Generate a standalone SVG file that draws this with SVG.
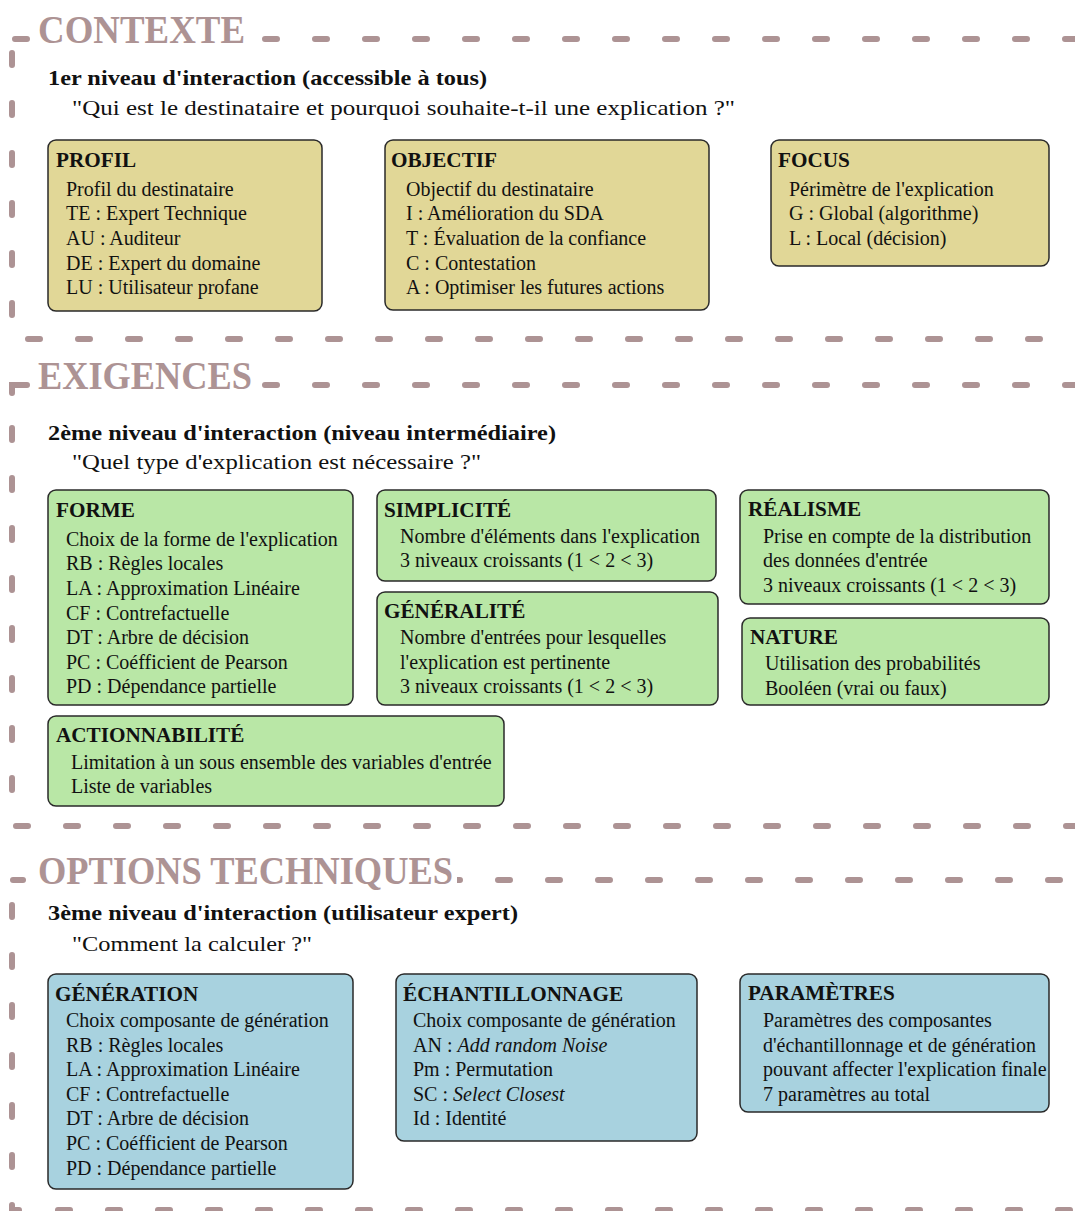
<svg xmlns="http://www.w3.org/2000/svg" width="1075" height="1211" viewBox="0 0 1075 1211">
<style>
text{font-family:"Liberation Serif","Times New Roman",serif;fill:#111}
.ttl{font-size:40px;font-weight:bold;fill:#ad9394}
.h{font-size:21.5px;font-weight:bold}
.q{font-size:21.5px}
.bt{font-size:21.2px;font-weight:bold}
.b{font-size:20px}
.d{stroke:#ad9394;stroke-width:6;stroke-linecap:round;stroke-dasharray:12 38;fill:none}
.box{stroke:#2a2a2a;stroke-width:1.5}
.y{fill:#e1d797}
.g{fill:#b9e7a6}
.bl{fill:#a8d2df}
</style>
<rect width="1075" height="1211" fill="#fff"/>
<g id="frames">
 <path class="d" d="M15,39 H1100"/>
 <path class="d" d="M12,53 V330"/>
 <path class="d" d="M28,339 H1100"/>
 <path class="d" d="M12,393 V385 H27"/>
 <path class="d" d="M15,385 H1100"/>
 <path class="d" d="M12,428 V800"/>
 <path class="d" d="M16,826 H1100"/>
 <path class="d" d="M13,880 H23"/>
 <path class="d" d="M48,880 H1100"/>
 <path class="d" d="M12,905 V1210 H20"/>
 <path class="d" d="M58,1210 H1100"/>
</g>
<g id="titles">
 <rect x="31" y="5" width="224" height="48" fill="#fff"/>
 <text class="ttl" x="38" y="43" textLength="207" lengthAdjust="spacingAndGlyphs">CONTEXTE</text>
 <rect x="31" y="350" width="226" height="48" fill="#fff"/>
 <text class="ttl" x="38" y="389" textLength="214" lengthAdjust="spacingAndGlyphs">EXIGENCES</text>
 <rect x="31" y="845" width="426" height="48" fill="#fff"/>
 <text class="ttl" x="38" y="884" textLength="415" lengthAdjust="spacingAndGlyphs">OPTIONS TECHNIQUES</text>
</g>
<g id="level1">
 <text class="h" x="48" y="85" textLength="439" lengthAdjust="spacingAndGlyphs">1er niveau d'interaction (accessible à tous)</text>
 <text class="q" x="72" y="115" textLength="663" lengthAdjust="spacingAndGlyphs">"Qui est le destinataire et pourquoi souhaite-t-il une explication ?"</text>
</g>
<g id="profil">
 <rect class="box y" x="48" y="140" width="274" height="171" rx="8"/>
 <text class="bt" x="56" y="167">PROFIL</text>
 <text class="b" x="66" y="196">Profil du destinataire</text>
 <text class="b" x="66" y="220">TE : Expert Technique</text>
 <text class="b" x="66" y="245">AU : Auditeur</text>
 <text class="b" x="66" y="270">DE : Expert du domaine</text>
 <text class="b" x="66" y="294">LU : Utilisateur profane</text>
</g>
<g id="objectif">
 <rect class="box y" x="385" y="140" width="324" height="170" rx="8"/>
 <text class="bt" x="391" y="167">OBJECTIF</text>
 <text class="b" x="406" y="196">Objectif du destinataire</text>
 <text class="b" x="406" y="220">I : Amélioration du SDA</text>
 <text class="b" x="406" y="245">T : Évaluation de la confiance</text>
 <text class="b" x="406" y="270">C : Contestation</text>
 <text class="b" x="406" y="294">A : Optimiser les futures actions</text>
</g>
<g id="focus">
 <rect class="box y" x="771" y="140" width="278" height="126" rx="8"/>
 <text class="bt" x="778" y="167">FOCUS</text>
 <text class="b" x="789" y="196">Périmètre de l'explication</text>
 <text class="b" x="789" y="220">G : Global (algorithme)</text>
 <text class="b" x="789" y="245">L : Local (décision)</text>
</g>
<g id="level2">
 <text class="h" x="48" y="440" textLength="508" lengthAdjust="spacingAndGlyphs">2ème niveau d'interaction (niveau intermédiaire)</text>
 <text class="q" x="72" y="469" textLength="409" lengthAdjust="spacingAndGlyphs">"Quel type d'explication est nécessaire ?"</text>
</g>
<g id="forme">
 <rect class="box g" x="48" y="490" width="305" height="215" rx="8"/>
 <text class="bt" x="56" y="517">FORME</text>
 <text class="b" x="66" y="546">Choix de la forme de l'explication</text>
 <text class="b" x="66" y="570">RB : Règles locales</text>
 <text class="b" x="66" y="595">LA : Approximation Linéaire</text>
 <text class="b" x="66" y="620">CF : Contrefactuelle</text>
 <text class="b" x="66" y="644">DT : Arbre de décision</text>
 <text class="b" x="66" y="669">PC : Coéfficient de Pearson</text>
 <text class="b" x="66" y="693">PD : Dépendance partielle</text>
</g>
<g id="simplicite">
 <rect class="box g" x="377" y="490" width="339" height="91" rx="8"/>
 <text class="bt" x="384" y="517">SIMPLICITÉ</text>
 <text class="b" x="400" y="543">Nombre d'éléments dans l'explication</text>
 <text class="b" x="400" y="567">3 niveaux croissants (1 &lt; 2 &lt; 3)</text>
</g>
<g id="generalite">
 <rect class="box g" x="377" y="592" width="341" height="113" rx="8"/>
 <text class="bt" x="384" y="618">GÉNÉRALITÉ</text>
 <text class="b" x="400" y="644">Nombre d'entrées pour lesquelles</text>
 <text class="b" x="400" y="669">l'explication est pertinente</text>
 <text class="b" x="400" y="693">3 niveaux croissants (1 &lt; 2 &lt; 3)</text>
</g>
<g id="realisme">
 <rect class="box g" x="740" y="490" width="309" height="114" rx="8"/>
 <text class="bt" x="748" y="516">RÉALISME</text>
 <text class="b" x="763" y="543">Prise en compte de la distribution</text>
 <text class="b" x="763" y="567">des données d'entrée</text>
 <text class="b" x="763" y="592">3 niveaux croissants (1 &lt; 2 &lt; 3)</text>
</g>
<g id="nature">
 <rect class="box g" x="742" y="618" width="307" height="87" rx="8"/>
 <text class="bt" x="750" y="644">NATURE</text>
 <text class="b" x="765" y="670">Utilisation des probabilités</text>
 <text class="b" x="765" y="695">Booléen (vrai ou faux)</text>
</g>
<g id="actionnabilite">
 <rect class="box g" x="48" y="716" width="456" height="90" rx="8"/>
 <text class="bt" x="56" y="742">ACTIONNABILITÉ</text>
 <text class="b" x="71" y="769">Limitation à un sous ensemble des variables d'entrée</text>
 <text class="b" x="71" y="793">Liste de variables</text>
</g>
<g id="level3">
 <text class="h" x="48" y="920" textLength="470" lengthAdjust="spacingAndGlyphs">3ème niveau d'interaction (utilisateur expert)</text>
 <text class="q" x="72" y="951" textLength="240" lengthAdjust="spacingAndGlyphs">"Comment la calculer ?"</text>
</g>
<g id="generation">
 <rect class="box bl" x="48" y="974" width="305" height="215" rx="8"/>
 <text class="bt" x="55" y="1001">GÉNÉRATION</text>
 <text class="b" x="66" y="1027">Choix composante de génération</text>
 <text class="b" x="66" y="1052">RB : Règles locales</text>
 <text class="b" x="66" y="1076">LA : Approximation Linéaire</text>
 <text class="b" x="66" y="1101">CF : Contrefactuelle</text>
 <text class="b" x="66" y="1125">DT : Arbre de décision</text>
 <text class="b" x="66" y="1150">PC : Coéfficient de Pearson</text>
 <text class="b" x="66" y="1175">PD : Dépendance partielle</text>
</g>
<g id="echantillonnage">
 <rect class="box bl" x="396" y="974" width="301" height="167" rx="8"/>
 <text class="bt" x="403" y="1001">ÉCHANTILLONNAGE</text>
 <text class="b" x="413" y="1027">Choix composante de génération</text>
 <text class="b" x="413" y="1052">AN : <tspan font-style="italic">Add random Noise</tspan></text>
 <text class="b" x="413" y="1076">Pm : Permutation</text>
 <text class="b" x="413" y="1101">SC : <tspan font-style="italic">Select Closest</tspan></text>
 <text class="b" x="413" y="1125">Id : Identité</text>
</g>
<g id="parametres">
 <rect class="box bl" x="740" y="974" width="309" height="138" rx="8"/>
 <text class="bt" x="748" y="1000">PARAMÈTRES</text>
 <text class="b" x="763" y="1027">Paramètres des composantes</text>
 <text class="b" x="763" y="1052">d'échantillonnage et de génération</text>
 <text class="b" x="763" y="1076">pouvant affecter l'explication finale</text>
 <text class="b" x="763" y="1101">7 paramètres au total</text>
</g>
</svg>
